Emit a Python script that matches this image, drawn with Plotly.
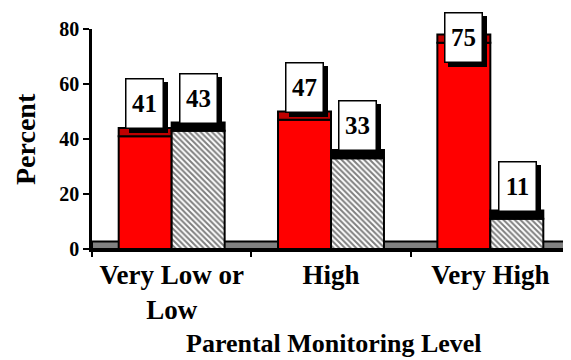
import plotly.graph_objects as go

categories = ["Very Low or<br>Low", "High", "Very High"]
red_values = [41, 47, 75]
hatch_values = [43, 33, 11]
y_ticks = [0, 20, 40, 60, 80]
y_title = "Percent"
x_title = "Parental Monitoring Level"

FONT = "Liberation Serif"
TOP = 3  # thickness of the 3D top face, in data units

fig = go.Figure()

fig.add_bar(x=categories, y=red_values, offsetgroup="a",
            marker=dict(color="#FF0000", line=dict(color="black", width=2)),
            hoverinfo="skip")
fig.add_bar(x=categories, y=[TOP] * len(red_values), base=red_values, offsetgroup="a",
            marker=dict(color="#C00000", line=dict(color="black", width=2)),
            hoverinfo="skip")
fig.add_bar(x=categories, y=hatch_values, offsetgroup="b",
            marker=dict(color="white", line=dict(color="black", width=2),
                        pattern=dict(shape="\\", fgcolor="black", bgcolor="white",
                                     size=4, solidity=0.5)),
            hoverinfo="skip")
fig.add_bar(x=categories, y=[TOP] * len(hatch_values), base=hatch_values, offsetgroup="b",
            marker=dict(color="black", line=dict(color="black", width=2)),
            hoverinfo="skip")

fig.add_shape(type="rect", xref="x domain", yref="y", x0=0, x1=1, y0=0, y1=2.7,
              fillcolor="#808080", line=dict(color="black", width=2), layer="below")

half = 26.7
ann = []
for series, shift in ((red_values, -half), (hatch_values, half)):
    for c, v in zip(categories, series):
        yc = min(v + 11.8, 77)
        ann.append(dict(x=c, y=yc, xref="x", yref="y", xshift=shift + 4, yshift=-4,
                        text=" ", showarrow=False, bgcolor="black", bordercolor="black",
                        borderwidth=1.5, borderpad=0, width=36, height=48,
                        font=dict(family=FONT, size=24)))
for series, shift in ((red_values, -half), (hatch_values, half)):
    for c, v in zip(categories, series):
        yc = min(v + 11.8, 77)
        ann.append(dict(x=c, y=yc, xref="x", yref="y", xshift=shift,
                        text=f"<b>{v}</b>", showarrow=False, bgcolor="white",
                        bordercolor="black", borderwidth=1.5, borderpad=0,
                        width=36, height=48,
                        font=dict(family=FONT, size=25, color="black")))

# axis titles
ann.append(dict(x=0, y=0.5, xref="paper", yref="paper", xshift=-67, textangle=-90,
                xanchor="center", yanchor="middle", showarrow=False,
                text=f"<b>{y_title}</b>", font=dict(family=FONT, size=28, color="black")))
ann.append(dict(x=0.5, y=0, xref="paper", yref="paper", xshift=3, yshift=-94,
                xanchor="center", yanchor="middle", showarrow=False,
                text=f"<b>{x_title}</b>", font=dict(family=FONT, size=26, color="black")))

# page body has an 8px margin: figure is 8px smaller and margins shifted accordingly
fig.update_layout(
    width=563, height=352,
    margin=dict(l=84, r=1, t=21, b=111),
    barmode="group", bargap=0.335, bargroupgap=0,
    showlegend=False,
    plot_bgcolor="white", paper_bgcolor="white",
    font=dict(family=FONT, color="black"),
    annotations=ann,
)
fig.update_xaxes(
    automargin=False,
    tickvals=categories, ticktext=[f"<b>{c}</b>" for c in categories],
    showline=True, linecolor="black", linewidth=2.5,
    ticks="outside", tickson="boundaries", ticklen=5, tickwidth=2, tickcolor="black",
    tickfont=dict(family=FONT, size=27, color="black"),
    showgrid=False, zeroline=False, range=[-0.5, 2.5],
)
fig.update_yaxes(
    automargin=False,
    range=[0, 80], tickvals=y_ticks, ticktext=[f"<b>{t}</b>" for t in y_ticks],
    showline=True, linecolor="black", linewidth=2.5,
    ticks="outside", ticklen=6, tickwidth=2, tickcolor="black",
    tickfont=dict(family=FONT, size=20, color="black"),
    showgrid=False, zeroline=False,
)

fig.write_html("out.html")
